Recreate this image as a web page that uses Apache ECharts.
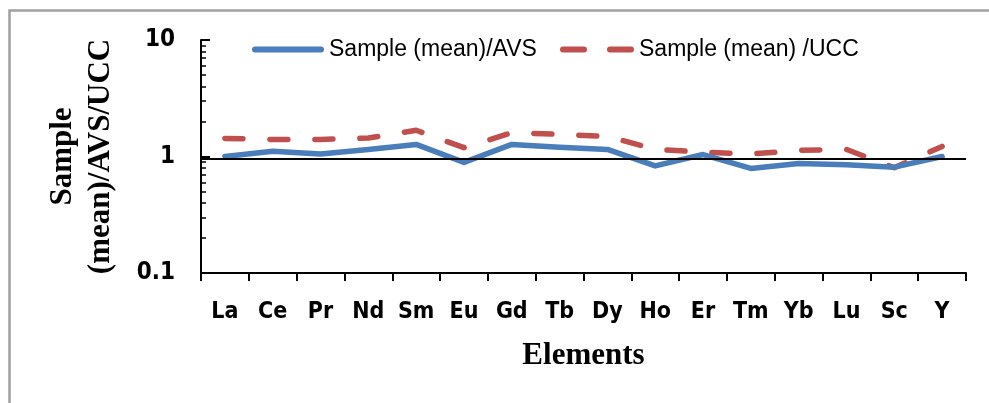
<!DOCTYPE html>
<html>
<head>
<meta charset="utf-8">
<script src="https://cdn.jsdelivr.net/npm/echarts@6/dist/echarts.min.js"></script>
<style>html,body{margin:0;padding:0;background:#fff;}#c{width:989px;height:403px;}</style>
</head>
<body>
<div id="c"></div>
<script>
const categories = ['La','Ce','Pr','Nd','Sm','Eu','Gd','Tb','Dy','Ho','Er','Tm','Yb','Lu','Sc','Y'];
const avsValues = [1.00,1.11,1.05,1.15,1.27,0.89,1.27,1.20,1.15,0.83,1.04,0.79,0.87,0.85,0.81,1.00];
const uccValues = [1.43,1.40,1.40,1.44,1.68,1.19,1.60,1.55,1.49,1.15,1.09,1.05,1.13,1.15,0.80,1.22];
const yLabelValues = [0.1, 1, 10];
const yMinorValues = [0.1,0.2,0.3,0.4,0.5,0.6,0.7,0.8,0.9,1,2,3,4,5,6,7,8,9,10];
const refValue = 0.95;
const seriesNames = ['Sample (mean)/AVS', 'Sample (mean) /UCC'];

const chart = echarts.init(document.getElementById('c'));
const labelFont = '"DejaVu Sans Condensed","Liberation Sans",sans-serif';
const legendFont = '"Liberation Sans",sans-serif';
const solidIcon = 'path://M3,0 H69 A3,3 0 0 1 69,6 H3 A3,3 0 0 1 3,0 Z';
const dashIcon = 'path://M3,0 H24 A3,3 0 0 1 24,6 H3 A3,3 0 0 1 3,0 Z M50,0 H71 A3,3 0 0 1 71,6 H50 A3,3 0 0 1 50,0 Z';
chart.setOption({
  animation: false,
  graphic: [{
    type: 'rect', left: 7, top: 8, silent: true,
    shape: {width: 1100, height: 500},
    style: {fill: 'none', stroke: '#a0a0a0', lineWidth: 2.5}
  }],
  grid: {left: 201, right: 23, top: 40, bottom: 130, containLabel: false},
  legend: [{
    top: 33, left: 247, itemWidth: 72, itemHeight: 6,
    textStyle: {fontFamily: legendFont, fontSize: 23, color: '#000'},
    data: [{name: seriesNames[0], icon: solidIcon}]
  }, {
    top: 33, left: 555, itemWidth: 74, itemHeight: 6,
    textStyle: {fontFamily: legendFont, fontSize: 23, color: '#000'},
    data: [{name: seriesNames[1], icon: dashIcon}]
  }],
  xAxis: {
    type: 'category', data: categories, boundaryGap: true,
    name: 'Elements', nameLocation: 'middle', nameGap: 67,
    nameTextStyle: {fontFamily: '"Liberation Serif",serif', fontWeight: 'bold', fontSize: 31, color: '#000'},
    axisLine: {lineStyle: {color: '#000', width: 2}},
    axisTick: {show: true, length: 8, lineStyle: {color: '#000', width: 2}},
    axisLabel: {fontFamily: labelFont, fontWeight: 'bold', fontSize: 23, color: '#000', margin: 28},
    splitLine: {show: false}
  },
  yAxis: [{
    type: 'log', logBase: 10, min: 0.1, max: 10,
    name: 'Sample\n(mean)/AVS/UCC', nameLocation: 'middle', nameGap: 81, nameRotate: 90,
    nameTextStyle: {fontFamily: '"Liberation Serif",serif', fontWeight: 'bold', fontSize: 31, color: '#000', lineHeight: 38},
    axisLine: {show: true, lineStyle: {color: '#000', width: 2}},
    axisTick: {show: true, inside: true, length: 5, customValues: yMinorValues, lineStyle: {color: '#000', width: 1.5}},
    axisLabel: {fontFamily: labelFont, fontWeight: 'bold', fontSize: 24, color: '#000', margin: 26, customValues: yLabelValues,
      formatter: v => String(v)},
    splitLine: {show: false}
  }, {
    type: 'log', logBase: 10, min: 0.1, max: 10, position: 'left',
    axisLine: {show: false},
    axisTick: {show: true, inside: true, length: 9, customValues: yLabelValues, lineStyle: {color: '#000', width: 2}},
    axisLabel: {show: false},
    splitLine: {show: false}
  }],
  series: [{
    name: seriesNames[0], type: 'line', data: avsValues,
    symbol: 'none', showSymbol: false,
    lineStyle: {color: '#4a7ebb', width: 5.5, cap: 'round', join: 'round'},
    itemStyle: {color: '#4a7ebb'},
    markLine: {
      silent: true, symbol: 'none', label: {show: false},
      lineStyle: {color: '#000', width: 2, type: 'solid'},
      data: [{yAxis: refValue}]
    },
    z: 3
  }, {
    name: seriesNames[1], type: 'line', data: uccValues,
    symbol: 'none', showSymbol: false,
    lineStyle: {color: '#c0504d', width: 5.5, type: [18, 27], cap: 'round', join: 'round'},
    itemStyle: {color: '#c0504d'},
    z: 2
  }]
});
</script>
</body>
</html>
